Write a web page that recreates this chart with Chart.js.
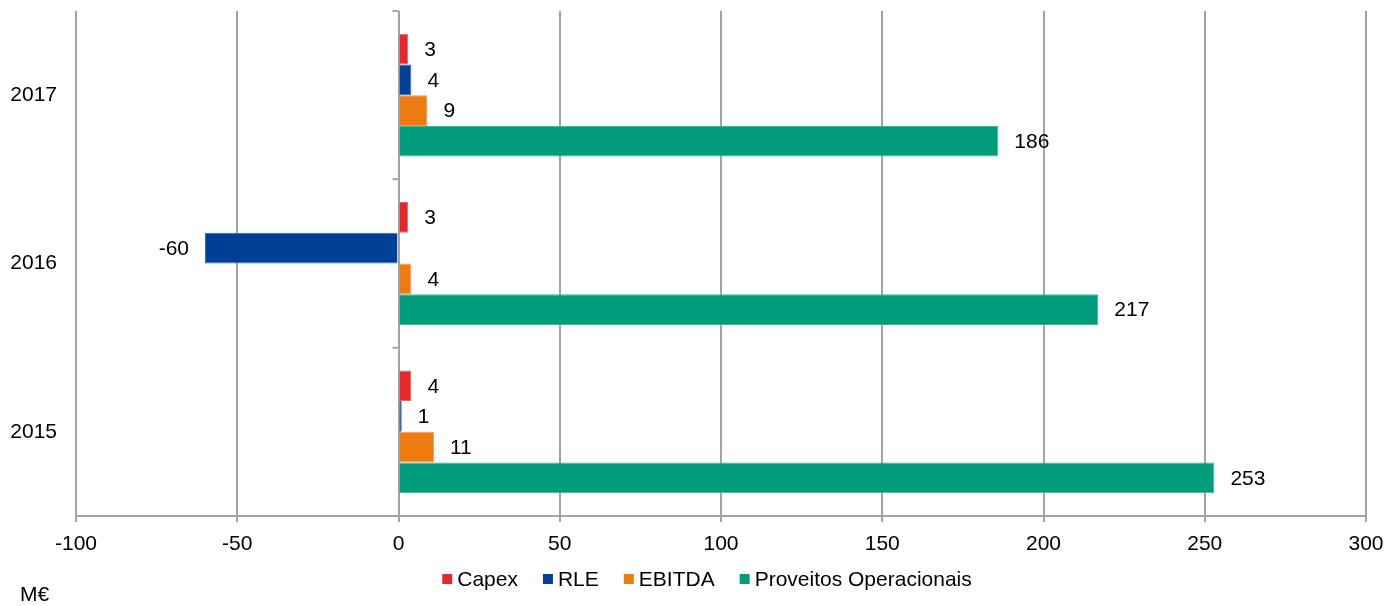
<!DOCTYPE html>
<html>
<head>
<meta charset="utf-8">
<title>Indicadores 2015-2017</title>
<script src="https://cdn.jsdelivr.net/npm/chart.js@4/dist/chart.umd.min.js"></script>
<style>
  html, body { margin: 0; padding: 0; background: #ffffff; }
  #wrap { position: relative; width: 1398px; height: 606px; }
</style>
</head>
<body>
<div id="wrap"><canvas id="chart"></canvas></div>
<script>
// Years shown on the category axis (top to bottom)
const categories = ['2017', '2016', '2015'];

// Series values in M€, one entry per year
const capex = [3, 3, 4];
const rle = [4, -60, 1];
const ebitda = [9, 4, 11];
const proveitos = [186, 217, 253];

const seriesNames = ['Capex', 'RLE', 'EBITDA', 'Proveitos Operacionais'];
const seriesColors = ['#E5282B', '#003F96', '#EE7A12', '#009C7B'];
const seriesBorders = ['#EC6466', '#3A6AB0', '#F29C50', '#3DB59C'];

// Value axis range and step
const xMin = -100;
const xMax = 300;
const xStep = 50;

const unitLabel = 'M€';

const FONT = "'Liberation Sans', Arial, sans-serif";
const FONT_SIZE = 21;
const GRID = '#a3a3a3';

Chart.defaults.font.family = FONT;
Chart.defaults.font.size = FONT_SIZE;
Chart.defaults.color = '#000000';

const seriesData = [capex, rle, ebitda, proveitos];

// Value labels beside the end of each bar
const valueLabels = {
  id: 'valueLabels',
  afterDatasetsDraw(chart) {
    const ctx = chart.ctx;
    ctx.save();
    ctx.font = FONT_SIZE + 'px ' + FONT;
    ctx.fillStyle = '#000000';
    ctx.textBaseline = 'middle';
    chart.data.datasets.forEach((ds, di) => {
      const meta = chart.getDatasetMeta(di);
      meta.data.forEach((bar, i) => {
        const v = ds.data[i];
        if (v >= 0) {
          ctx.textAlign = 'left';
          ctx.fillText(String(v), bar.x + 16, bar.y + 1);
        } else {
          ctx.textAlign = 'right';
          ctx.fillText(String(v), bar.x - 16, bar.y + 1);
        }
      });
    });
    ctx.restore();
  }
};

// Category axis drawn through zero, with short tick marks between years
const zeroAxisTicks = {
  id: 'zeroAxisTicks',
  afterDatasetsDraw(chart) {
    const ctx = chart.ctx;
    const xs = chart.scales.x;
    const ys = chart.scales.y;
    const x0 = xs.getPixelForValue(0);
    const n = categories.length;
    const step = (ys.bottom - ys.top) / n;
    ctx.save();
    ctx.strokeStyle = GRID;
    ctx.lineWidth = 2;
    ctx.beginPath();
    for (let i = 0; i < n; i++) {
      const y = ys.top + i * step;
      ctx.moveTo(x0 - 6, y);
      ctx.lineTo(x0, y);
    }
    ctx.stroke();
    ctx.restore();
  }
};

// Legend row and unit caption under the axis
const bottomLegend = {
  id: 'bottomLegend',
  afterDraw(chart) {
    const ctx = chart.ctx;
    ctx.save();
    ctx.font = FONT_SIZE + 'px ' + FONT;
    ctx.textBaseline = 'middle';
    ctx.textAlign = 'left';
    const box = 10, gapText = 5, gapItem = 25;
    const items = chart.data.datasets.map(ds => ({
      label: ds.label,
      color: ds.backgroundColor,
      w: ctx.measureText(ds.label).width
    }));
    let total = 0;
    items.forEach((it, i) => {
      total += box + gapText + it.w + (i < items.length - 1 ? gapItem : 0);
    });
    const cy = 579;
    let x = 707 - total / 2;
    items.forEach(it => {
      ctx.fillStyle = it.color;
      ctx.fillRect(x, cy - box / 2, box, box);
      ctx.fillStyle = '#000000';
      ctx.fillText(it.label, x + box + gapText, cy + 1);
      x += box + gapText + it.w + gapItem;
    });
    ctx.fillText(unitLabel, 20, 595);
    ctx.restore();
  }
};

new Chart(document.getElementById('chart'), {
  type: 'bar',
  data: {
    labels: categories,
    datasets: seriesNames.map((name, i) => ({
      label: name,
      data: seriesData[i],
      backgroundColor: seriesColors[i],
      borderColor: seriesBorders[i],
      borderWidth: 1,
      categoryPercentage: 0.73,
      barPercentage: 1.0
    }))
  },
  options: {
    indexAxis: 'y',
    responsive: true,
    maintainAspectRatio: false,
    animation: false,
    layout: { padding: { top: 11, right: 32, bottom: 0, left: 0 } },
    plugins: {
      legend: { display: false },
      tooltip: { enabled: false }
    },
    scales: {
      x: {
        min: xMin,
        max: xMax,
        ticks: {
          stepSize: xStep,
          padding: 10,
          color: '#000000',
          font: { size: FONT_SIZE }
        },
        grid: {
          color: GRID,
          lineWidth: 2,
          tickLength: 6,
          tickColor: GRID
        },
        border: { color: GRID, width: 2 },
        afterFit(scale) { scale.height = 90; }
      },
      y: {
        ticks: {
          padding: 19,
          color: '#000000',
          font: { size: FONT_SIZE }
        },
        grid: { display: false, drawTicks: false },
        border: { display: false },
        afterFit(scale) {
          scale.width = 76;
          scale.paddingTop = 0;
          scale.paddingBottom = 0;
        }
      }
    }
  },
  plugins: [valueLabels, zeroAxisTicks, bottomLegend]
});
</script>
</body>
</html>
